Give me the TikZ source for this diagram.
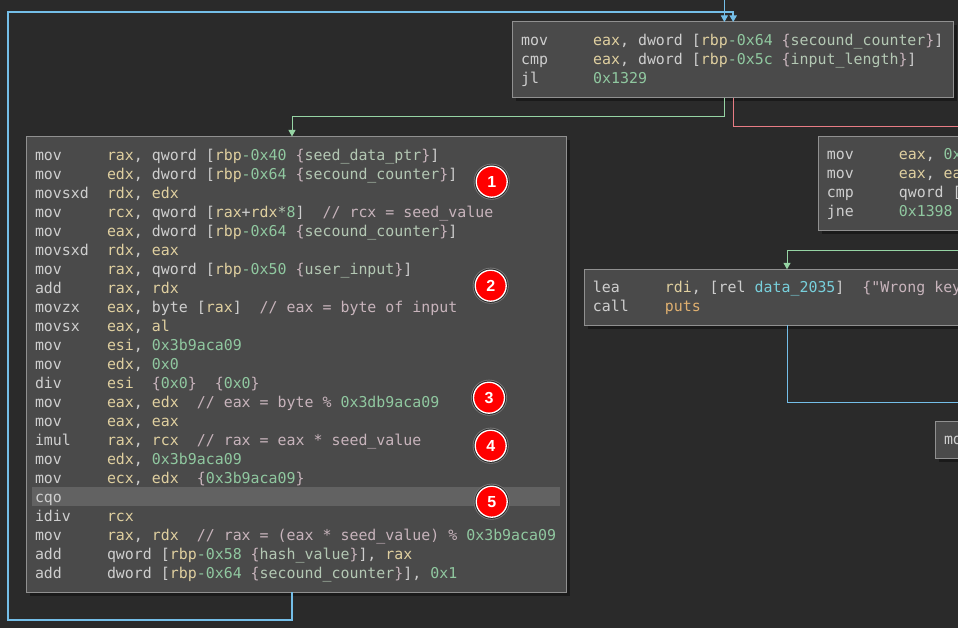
\documentclass[tikz,border=0pt]{standalone}
\usepackage{fontspec}
\usetikzlibrary{arrows.meta,shadows}
\newfontfamily\asmfont{DejaVu Sans Mono}
\newfontfamily\badgefont{Liberation Sans}
\definecolor{bgdark}{HTML}{2A2A2A}
\definecolor{boxfill}{HTML}{4A4A4A}
\definecolor{boxedge}{HTML}{909090}
\definecolor{boxshadow}{HTML}{1A1A1A}
\definecolor{rowfill}{HTML}{626262}
\definecolor{mnemgrey}{HTML}{CFCFCF}
\definecolor{regtan}{HTML}{E0D0A0}
\definecolor{hexgreen}{HTML}{90C8A0}
\definecolor{cmtpink}{HTML}{C8B4BC}
\definecolor{vargreen}{HTML}{B4C8B4}
\definecolor{datacyan}{HTML}{78D0DC}
\definecolor{symorange}{HTML}{E0B070}
\definecolor{edgeblue}{HTML}{74BEE8}
\definecolor{edgegreen}{HTML}{96D4A4}
\definecolor{edgered}{HTML}{E87C84}
\newcommand{\ins}[2]{\rule[-4.5pt]{0pt}{19pt}\makebox[72pt][l]{#1}#2}
\newcommand{\rg}[1]{\textcolor{regtan}{#1}}
\newcommand{\hx}[1]{\textcolor{hexgreen}{#1}}
\newcommand{\cm}[1]{\textcolor{cmtpink}{#1}}
\newcommand{\vr}[1]{\cm{\{}\textcolor{vargreen}{#1}\cm{\}}}
\newcommand{\slot}[2]{[\rg{rbp}\hx{-#1} \vr{#2}]}
\tikzset{
	asmblock/.style={draw=boxedge, fill=boxfill, line width=1pt, inner xsep=8.5pt, inner ysep=0pt,
		outer sep=0pt, anchor=north west, align=flush left, text=mnemgrey,
		font=\asmfont\frenchspacing\fontsize{14.92}{19}\selectfont,
		drop shadow={shadow xshift=3.5pt, shadow yshift=-3.5pt, fill=boxshadow, opacity=1}},
	badge/.style={circle, fill=red, draw=white, line width=1.3pt, minimum size=31pt, inner sep=0pt,
		outer sep=0pt, text=white, font=\badgefont\bfseries\fontsize{16}{16}\selectfont,
		preaction={draw=boxedge!120, line width=5pt}, preaction={draw=black!85, line width=3.2pt}},
	flowtip/.style={-{Triangle[length=6.5pt, width=7pt]}},
	loopedge/.style={draw=edgeblue, line width=1.6pt, line join=miter},
	bluedge/.style={draw=edgeblue, line width=1pt},
	truedge/.style={draw=edgegreen, line width=1pt},
	falsedge/.style={draw=edgered, line width=1pt}
}
\begin{document}
\begin{tikzpicture}[x=1pt, y=-1pt]
		
		\useasboundingbox (0, 0) rectangle (958, 628);
		\clip (0, 0) rectangle (958, 628);
		\fill [bgdark] (0, 0) rectangle (958, 628);
		
		\node [asmblock, text width=424.2pt, minimum height=75.7pt] (countcheck) at (512.6, 22) {%
			\ins{mov}{\rg{eax}, dword \slot{0x64}{secound\_counter}}\\
			\ins{cmp}{\rg{eax}, dword \slot{0x5c}{input\_length}}\\
			\ins{jl}{\hx{0x1329}}};
		
		\node [asmblock, text width=523pt, minimum height=455.5pt,
			path picture={\fill [rowfill] ([xshift=5.5pt, yshift=-350.5pt]path picture bounding box.north west) rectangle ([xshift=533.5pt, yshift=-369.2pt]path picture bounding box.north west);}]
			(hashloop) at (26.5, 136.5) {%
			\ins{mov}{\rg{rax}, qword \slot{0x40}{seed\_data\_ptr}}\\
			\ins{mov}{\rg{edx}, dword \slot{0x64}{secound\_counter}}\\
			\ins{movsxd}{\rg{rdx}, \rg{edx}}\\
			\ins{mov}{\rg{rcx}, qword [\rg{rax}+\rg{rdx}\textcolor{vargreen}{*}\hx{8}]~~\cm{// rcx = seed\_value}}\\
			\ins{mov}{\rg{eax}, dword \slot{0x64}{secound\_counter}}\\
			\ins{movsxd}{\rg{rdx}, \rg{eax}}\\
			\ins{mov}{\rg{rax}, qword \slot{0x50}{user\_input}}\\
			\ins{add}{\rg{rax}, \rg{rdx}}\\
			\ins{movzx}{\rg{eax}, byte [\rg{rax}]~~\cm{// eax = byte of input}}\\
			\ins{movsx}{\rg{eax}, \rg{al}}\\
			\ins{mov}{\rg{esi}, \hx{0x3b9aca09}}\\
			\ins{mov}{\rg{edx}, \hx{0x0}}\\
			\ins{div}{\rg{esi}~~\cm{\{}\hx{0x0}\cm{\}}~~\cm{\{}\hx{0x0}\cm{\}}}\\
			\ins{mov}{\rg{eax}, \rg{edx}~~\cm{// eax = byte \% }\hx{0x3db9aca09}}\\
			\ins{mov}{\rg{eax}, \rg{eax}}\\
			\ins{imul}{\rg{rax}, \rg{rcx}~~\cm{// rax = eax * seed\_value}}\\
			\ins{mov}{\rg{edx}, \hx{0x3b9aca09}}\\
			\ins{mov}{\rg{ecx}, \rg{edx}~~\cm{\{}\hx{0x3b9aca09}\cm{\}}}\\
			\ins{cqo}{}\\
			\ins{idiv}{\rg{rcx}}\\
			\ins{mov}{\rg{rax}, \rg{rdx}~~\cm{// rax = (eax * seed\_value) \% }\hx{0x3b9aca09}}\\
			\ins{add}{qword \slot{0x58}{hash\_value}, \rg{rax}}\\
			\ins{add}{dword \slot{0x64}{secound\_counter}, \hx{0x1}}};
		
		\node [asmblock, text width=300pt, minimum height=94pt] (keycheck) at (818.3, 136.5) {%
			\ins{mov}{\rg{eax}, \hx{0x}}\\
			\ins{mov}{\rg{eax}, \rg{ea}}\\
			\ins{cmp}{qword [}\\
			\ins{jne}{\hx{0x1398}}};
		
		\node [asmblock, text width=388.4pt, minimum height=56pt] (wrongkey) at (584.3, 269.3) {%
			\ins{lea}{\rg{rdi}, [rel \textcolor{datacyan}{data\_2035}]~~\cm{\{"Wrong key}}\\
			\ins{call}{\textcolor{symorange}{puts}}};
		
		\node [asmblock, text width=100pt, minimum height=37pt] (tailblock) at (935.5, 421.3) {\ins{mo}{}};
		
		\coordinate (entrytop) at (724.4, -3);
		\coordinate (loopcorner) at (8, 620);
		\coordinate (looptop) at (8, 12);
		\coordinate (falsend) at (965, 126.5);
		\coordinate (truestart) at (965, 250.3);
		\coordinate (wrongend) at (965, 402);
		
		\draw [bluedge, flowtip] (entrytop) -- ([xshift=-8.8pt]countcheck.north);
		\draw [loopedge, flowtip] ([xshift=-4.5pt]hashloop.south) |- (loopcorner) -- (looptop) -| (countcheck.north);
		\draw [truedge, flowtip] ([xshift=-8.8pt]countcheck.south) -- ++(0, 19.3) -| ([xshift=-4.5pt]hashloop.north);
		\draw [falsedge] (countcheck.south) |- (falsend);
		\draw [truedge, flowtip] (truestart) -| (wrongkey.north);
		\draw [bluedge] (wrongkey.south) |- (wrongend);
		
		\foreach \badgename/\bx/\by/\bnum in {one/491.7/181.7/1, two/490.7/285.7/2, three/489/397.7/3, four/490.7/445.7/4, five/491.7/501.7/5}
			\node [badge] (\badgename) at (\bx, \by) {\bnum};
		
		\end{tikzpicture}
\end{document}
